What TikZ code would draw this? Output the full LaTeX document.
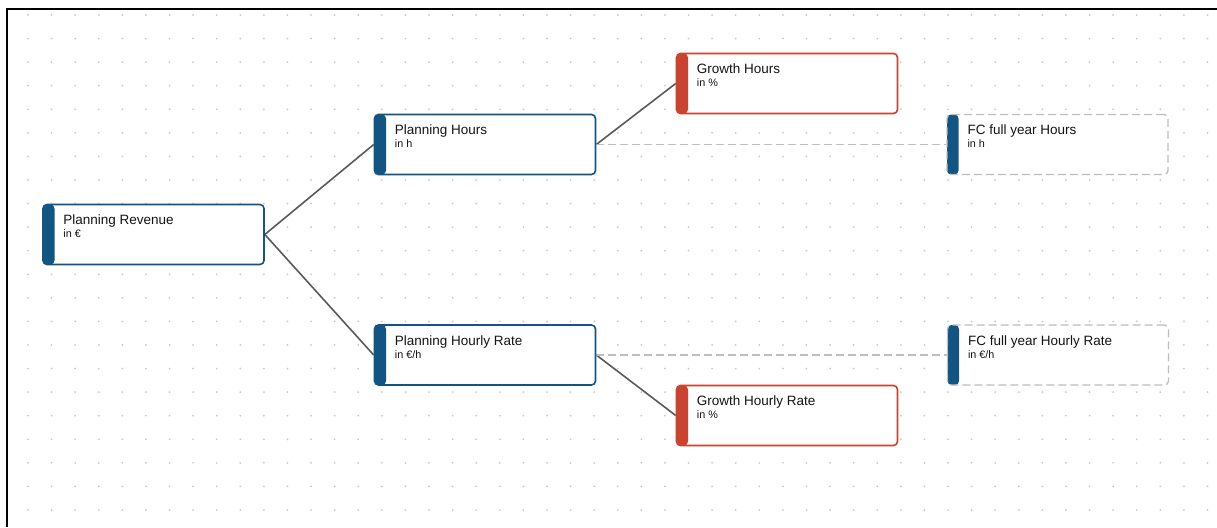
\documentclass[tikz,border=0pt]{standalone}
\usepackage{fontspec}
\setmainfont{Liberation Sans}
\definecolor{nblue}{RGB}{18,84,130}
\definecolor{nred}{RGB}{201,67,47}
\definecolor{edgegray}{RGB}{90,90,90}
\definecolor{dashgray}{RGB}{190,190,190}
\definecolor{dotgray}{RGB}{200,200,200}
\definecolor{txt}{RGB}{20,20,20}
\pgfdeclarelayer{bg}
\pgfdeclarelayer{edges}
\pgfsetlayers{bg,edges,main}
\tikzset{
  card/.style={rectangle, minimum width=221pt, minimum height=60pt, inner sep=0pt,
    rounded corners=4pt, fill=white, line width=1.6pt},
  bar/.style={path picture={\fill[#1] (path picture bounding box.north west) rectangle ([xshift=11.5pt]path picture bounding box.south west);}},
  bluecard/.style={card, draw=nblue, bar=nblue},
  redcard/.style={card, draw=nred, bar=nred},
  fccard/.style={card, draw=dashgray, dash pattern=on 8pt off 4pt, line width=1.3pt, bar=nblue},
  ttl/.style={anchor=base west, inner sep=0pt, text=txt, font=\fontsize{13.5}{16}\selectfont},
  sub/.style={anchor=base west, inner sep=0pt, text=txt, font=\fontsize{10.8}{12}\selectfont},
  link/.style={draw=edgegray, line width=1.6pt},
  dlink/.style={draw=dashgray, line width=1.3pt, dash pattern=on 8pt off 4pt},
}
\begin{document}
\begin{tikzpicture}[x=1pt,y=-1pt]
\useasboundingbox (0,0) rectangle (1217,527);
\begin{pgfonlayer}{bg}
\fill[white] (0,0) rectangle (1217,527);
\foreach \i in {0,...,50} {
  \foreach \j in {0,...,21} {
    \fill[dotgray] ({28+23.59*\i},{15+23.57*\j}) circle (1pt);
  }
}
\end{pgfonlayer}
\draw[black, line width=2pt] (6,9) -- (1217,9);
\draw[black, line width=2pt] (7,8) -- (7,527);

% nodes
\node[bluecard] (rev) at (153.5,234.5) {};
\node[bluecard] (ph) at (485,144.5) {};
\node[bluecard] (phr) at (485,355) {};
\node[redcard] (gh) at (787,83.5) {};
\node[redcard] (ghr) at (787,415.5) {};
\node[fccard] (fch) at (1057.5,144.5) {};
\node[fccard] (fchr) at (1058,355) {};

% texts
\foreach \n/\t/\s in {rev/Planning Revenue/in €, ph/Planning Hours/in h, phr/Planning Hourly Rate/in €\slash h, gh/Growth Hours/in \%, ghr/Growth Hourly Rate/in \%, fch/FC full year Hours/in h, fchr/FC full year Hourly Rate/in €\slash h} {
  \node[ttl] (\n-t) at ([xshift=21pt,yshift=-21pt]\n.north west) {\t};
  \node[sub] (\n-s) at ([xshift=21pt,yshift=-34pt]\n.north west) {\s};
}

\begin{pgfonlayer}{edges}
\draw[link] (rev.east) -- (ph.west);
\draw[link] (rev.east) -- (phr.west);
\draw[link] (ph.east) -- (gh.west);
\draw[link] (phr.east) -- (ghr.west);
\draw[dlink] (ph.east) -- (fch.west);
\draw[dlink] (phr.east) -- (fchr.west);
\end{pgfonlayer}
\end{tikzpicture}
\end{document}
